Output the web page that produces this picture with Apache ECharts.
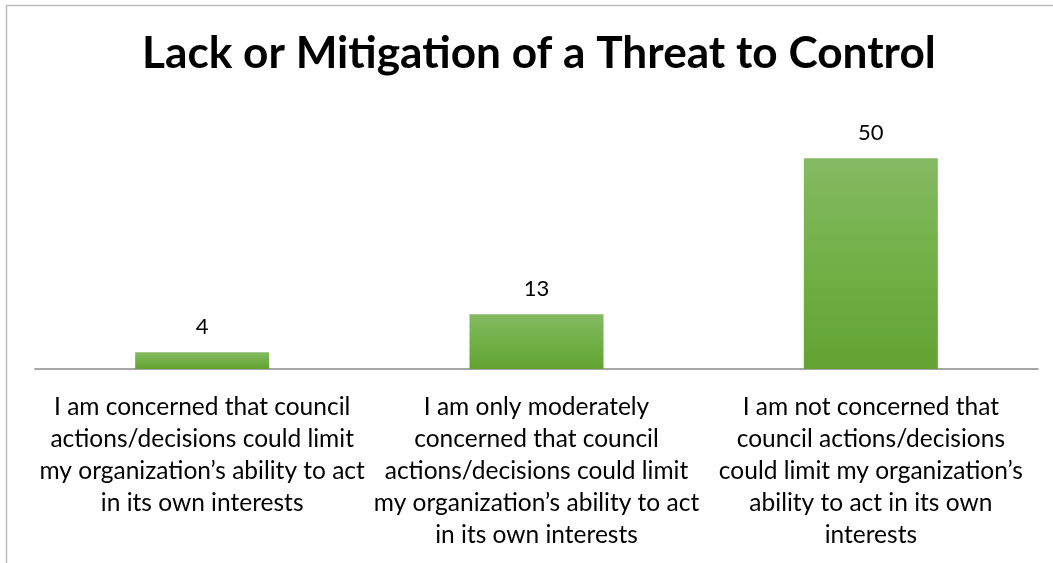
<!DOCTYPE html>
<html><head><meta charset="utf-8">
<script src="https://cdn.jsdelivr.net/npm/echarts@6/dist/echarts.min.js"></script>
<style>html,body{margin:0;padding:0;background:#fff}#c{width:1053px;height:563px}</style>
</head><body><div id="c"></div>
<script>
const titleText = 'Lack or Mitigation of a Threat to Control';
const categories = [
  'I am concerned that council\nactions/decisions could limit\nmy organization\u2019s ability to act\nin its own interests',
  'I am only moderately\nconcerned that council\nactions/decisions could limit\nmy organization\u2019s ability to act\nin its own interests',
  'I am not concerned that\ncouncil actions/decisions\ncould limit my organization\u2019s\nability to act in its own\ninterests'
];
const values = [4, 13, 50];

const chart = echarts.init(document.getElementById('c'), null, {renderer: 'canvas'});
chart.setOption({
  animation: false,
  backgroundColor: '#fff',
  graphic: [{
    type: 'rect', silent: true, z: -1,
    shape: {x: 6.5, y: 5.5, width: 1200, height: 700},
    style: {fill: 'none', stroke: '#bfbfbf', lineWidth: 1.5}
  }],
  title: {
    text: titleText, left: 137, top: 27,
    textStyle: {fontFamily: 'Lato', fontWeight: 'bold', fontSize: 44.2, color: '#000'}
  },
  grid: {left: 35, right: 15, top: 116, bottom: 194, containLabel: false},
  xAxis: {
    type: 'category', data: categories,
    axisLine: {lineStyle: {color: '#898989', width: 1.5}},
    axisTick: {show: false},
    axisLabel: {interval: 0, margin: 22, fontFamily: 'Lato', fontSize: 24.5, lineHeight: 32, color: '#000', align: 'center'}
  },
  yAxis: {type: 'value', min: 0, max: 60, show: false, splitLine: {show: false}},
  series: [{
    type: 'bar', data: values, barWidth: 134,
    itemStyle: {color: new echarts.graphic.LinearGradient(0, 0, 0, 1, [
      {offset: 0, color: '#85ba63'}, {offset: 0.5, color: '#71b046'}, {offset: 1, color: '#62a333'}
    ])},
    label: {show: true, position: 'top', distance: 14, fontFamily: 'Lato', fontSize: 22, color: '#000'}
  }]
});
</script></body></html>
